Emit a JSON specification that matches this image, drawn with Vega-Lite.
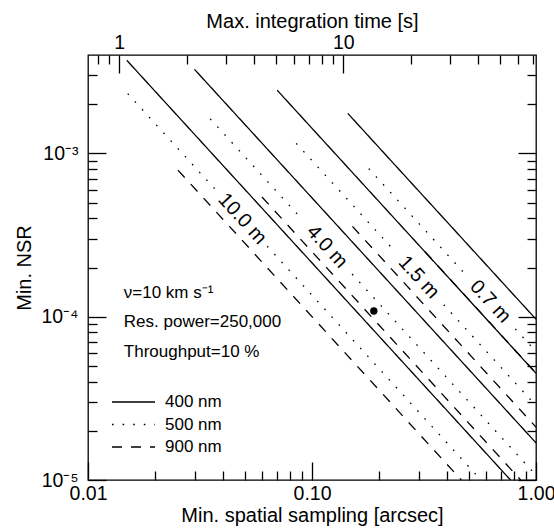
{
  "$schema": "https://vega.github.io/schema/vega-lite/v6.json",
  "width": 448,
  "height": 425,
  "autosize": {"type": "none"},
  "padding": {"left": 88, "top": 55, "right": 18, "bottom": 48},
  "background": "white",
  "config": {
    "font": "Liberation Sans",
    "view": {"stroke": "#000", "strokeWidth": 1.3},
    "axis": {
      "domain": false, "grid": false, "tickColor": "#000", "tickWidth": 1.3,
      "labelColor": "#000", "titleColor": "#000", "labelFontSize": 19.5,
      "titleFontSize": 20, "titleFontWeight": "normal", "labelFlush": false,
      "labelOverlap": false
    }
  },
  "datasets": {
    "lines": [
      {"D": "10.0 m", "band": "400 nm", "seg": "a", "s": 0.0149, "nsr": 0.003711},
      {"D": "10.0 m", "band": "400 nm", "seg": "a", "s": 0.7695, "nsr": 0.00001},
      {"D": "4.0 m", "band": "400 nm", "seg": "a", "s": 0.02988, "nsr": 0.003267},
      {"D": "4.0 m", "band": "400 nm", "seg": "a", "s": 1, "nsr": 0.000016875},
      {"D": "1.5 m", "band": "400 nm", "seg": "a", "s": 0.0699, "nsr": 0.002435},
      {"D": "1.5 m", "band": "400 nm", "seg": "a", "s": 1, "nsr": 0.000045},
      {"D": "0.7 m", "band": "400 nm", "seg": "a", "s": 0.1445, "nsr": 0.0017555},
      {"D": "0.7 m", "band": "400 nm", "seg": "a", "s": 1, "nsr": 0.00009643},
      {"D": "10.0 m", "band": "500 nm", "seg": "a", "s": 0.01504, "nsr": 0.0023204},
      {"D": "10.0 m", "band": "500 nm", "seg": "a", "s": 0.0377, "nsr": 0.0005847},
      {"D": "10.0 m", "band": "500 nm", "seg": "b", "s": 0.0631, "nsr": 0.00027},
      {"D": "10.0 m", "band": "500 nm", "seg": "b", "s": 0.5676, "nsr": 0.00001},
      {"D": "4.0 m", "band": "500 nm", "seg": "a", "s": 0.03511, "nsr": 0.0016264},
      {"D": "4.0 m", "band": "500 nm", "seg": "a", "s": 0.0903, "nsr": 0.0003943},
      {"D": "4.0 m", "band": "500 nm", "seg": "b", "s": 0.151, "nsr": 0.00018235},
      {"D": "4.0 m", "band": "500 nm", "seg": "b", "s": 1, "nsr": 0.0000107},
      {"D": "1.5 m", "band": "500 nm", "seg": "a", "s": 0.085, "nsr": 0.0011512},
      {"D": "1.5 m", "band": "500 nm", "seg": "a", "s": 0.2316, "nsr": 0.00025597},
      {"D": "1.5 m", "band": "500 nm", "seg": "b", "s": 0.3874, "nsr": 0.00011832},
      {"D": "1.5 m", "band": "500 nm", "seg": "b", "s": 1, "nsr": 0.00002853},
      {"D": "0.7 m", "band": "500 nm", "seg": "a", "s": 0.1792, "nsr": 0.000806},
      {"D": "0.7 m", "band": "500 nm", "seg": "a", "s": 0.4834, "nsr": 0.00018192},
      {"D": "0.7 m", "band": "500 nm", "seg": "b", "s": 0.8087, "nsr": 0.00008407},
      {"D": "0.7 m", "band": "500 nm", "seg": "b", "s": 1, "nsr": 0.00006114},
      {"D": "10.0 m", "band": "900 nm", "seg": "a", "s": 0.0252, "nsr": 0.0007899},
      {"D": "10.0 m", "band": "900 nm", "seg": "a", "s": 0.4641, "nsr": 0.00001},
      {"D": "4.0 m", "band": "900 nm", "seg": "a", "s": 0.0598, "nsr": 0.0005402},
      {"D": "4.0 m", "band": "900 nm", "seg": "a", "s": 0.8546, "nsr": 0.00001},
      {"D": "1.5 m", "band": "900 nm", "seg": "a", "s": 0.1515, "nsr": 0.0003573},
      {"D": "1.5 m", "band": "900 nm", "seg": "a", "s": 1, "nsr": 0.00002107},
      {"D": "0.7 m", "band": "900 nm", "seg": "a", "s": 0.318, "nsr": 0.00025173},
      {"D": "0.7 m", "band": "900 nm", "seg": "a", "s": 1, "nsr": 0.00004514}
    ],
    "labels": [
      {"D": "10.0 m", "s": 0.0488, "nsr": 0.000397},
      {"D": "4.0 m", "s": 0.1168, "nsr": 0.000268},
      {"D": "1.5 m", "s": 0.2996, "nsr": 0.000174},
      {"D": "0.7 m", "s": 0.6254, "nsr": 0.0001236}
    ],
    "notes": [
      {"txt": "ν=10 km s⁻¹", "s": 0.01445, "nsr": 0.0001397},
      {"txt": "Res. power=250,000", "s": 0.01445, "nsr": 0.0000932},
      {"txt": "Throughput=10 %", "s": 0.01445, "nsr": 0.000061}
    ],
    "dot": [{"s": 0.1888, "nsr": 0.0001084}],
    "yrange": [{"nsr": 0.00001}, {"nsr": 0.004}],
    "trange": [{"t": 0.725}, {"t": 72.5}]
  },
  "layer": [
    {
      "layer": [
        {
          "data": {"name": "lines"},
          "mark": {"type": "line", "color": "#000", "strokeWidth": 1.3, "clip": true, "strokeCap": "butt"},
          "encoding": {
            "x": {
              "field": "s", "type": "quantitative",
              "scale": {"type": "log", "domain": [0.01, 1], "nice": false, "zero": false},
              "axis": {
                "orient": "bottom",
                "values": [0.01, 0.02, 0.03, 0.04, 0.05, 0.06, 0.07, 0.08, 0.09, 0.1, 0.2, 0.3, 0.4, 0.5, 0.6, 0.7, 0.8, 0.9, 1],
                "labelExpr": "abs(log(datum.value)/LN10 - round(log(datum.value)/LN10)) < 0.001 ? format(datum.value, '.2f') : ''",
                "tickSize": {"condition": {"test": "abs(log(datum.value)/LN10 - round(log(datum.value)/LN10)) < 0.001", "value": -18}, "value": -9},
                "labelPadding": 22,
                "title": "Min. spatial sampling [arcsec]",
                "titlePadding": -6
              }
            },
            "y": {
              "field": "nsr", "type": "quantitative",
              "scale": {"type": "log", "domain": [0.00001, 0.004], "nice": false, "zero": false},
              "axis": {
                "orient": "left",
                "values": [0.00001, 0.00002, 0.00003, 0.00004, 0.00005, 0.00006, 0.00007, 0.00008, 0.00009, 0.0001, 0.0002, 0.0003, 0.0004, 0.0005, 0.0006, 0.0007, 0.0008, 0.0009, 0.001, 0.002, 0.003],
                "labelExpr": "abs(log(datum.value)/LN10 - round(log(datum.value)/LN10)) < 0.001 ? '10' + (round(log(datum.value)/LN10) == -3 ? '⁻³' : round(log(datum.value)/LN10) == -4 ? '⁻⁴' : '⁻⁵') : ''",
                "tickSize": {"condition": {"test": "abs(log(datum.value)/LN10 - round(log(datum.value)/LN10)) < 0.001", "value": -18}, "value": -9},
                "labelPadding": 28,
                "title": "Min. NSR",
                "titlePadding": 6
              }
            },
            "detail": [{"field": "D"}, {"field": "seg"}],
            "strokeDash": {
              "field": "band", "type": "nominal",
              "scale": {"domain": ["400 nm", "500 nm", "900 nm"], "range": [[1, 0], [1.6, 9], [10, 9]]},
              "legend": {
                "orient": "bottom-left", "title": null, "symbolType": "stroke",
                "symbolSize": 1849, "symbolStrokeWidth": 1.3, "symbolStrokeColor": "#000",
                "labelFontSize": 17, "labelColor": "#000", "labelOffset": 9,
                "clipHeight": 20, "rowPadding": 2.5, "offset": 19, "padding": 4
              }
            }
          }
        },
        {
          "data": {"name": "dot"},
          "mark": {"type": "point", "filled": true, "color": "#000", "size": 55, "opacity": 1},
          "encoding": {
            "x": {"field": "s", "type": "quantitative"},
            "y": {"field": "nsr", "type": "quantitative", "axis": null}
          }
        },
        {
          "data": {"name": "labels"},
          "mark": {"type": "text", "angle": 47.6, "fontSize": 20, "align": "center", "baseline": "middle", "color": "#000"},
          "encoding": {
            "x": {"field": "s", "type": "quantitative"},
            "y": {"field": "nsr", "type": "quantitative", "axis": null},
            "text": {"field": "D"}
          }
        },
        {
          "data": {"name": "notes"},
          "mark": {"type": "text", "fontSize": 17, "align": "left", "baseline": "middle", "color": "#000"},
          "encoding": {
            "x": {"field": "s", "type": "quantitative"},
            "y": {"field": "nsr", "type": "quantitative", "axis": null},
            "text": {"field": "txt"}
          }
        },
        {
          "data": {"name": "yrange"},
          "mark": {"type": "point", "opacity": 0},
          "encoding": {
            "y": {
              "field": "nsr", "type": "quantitative",
              "axis": {
                "orient": "right",
                "values": [0.00001, 0.00002, 0.00003, 0.00004, 0.00005, 0.00006, 0.00007, 0.00008, 0.00009, 0.0001, 0.0002, 0.0003, 0.0004, 0.0005, 0.0006, 0.0007, 0.0008, 0.0009, 0.001, 0.002, 0.003],
                "labels": false,
                "tickSize": {"condition": {"test": "abs(log(datum.value)/LN10 - round(log(datum.value)/LN10)) < 0.001", "value": -18}, "value": -9},
                "title": null
              }
            }
          }
        }
      ],
      "resolve": {"axis": {"y": "independent"}}
    },
    {
      "data": {"name": "trange"},
      "mark": {"type": "point", "opacity": 0},
      "encoding": {
        "x": {
          "field": "t", "type": "quantitative",
          "scale": {"type": "log", "domain": [0.725, 72.5], "nice": false, "zero": false},
          "axis": {
            "orient": "top",
            "values": [0.8, 0.9, 1, 2, 3, 4, 5, 6, 7, 8, 9, 10, 20, 30, 40, 50, 60, 70],
            "labelExpr": "abs(log(datum.value)/LN10 - round(log(datum.value)/LN10)) < 0.001 ? format(datum.value, 'd') : ''",
            "tickSize": {"condition": {"test": "abs(log(datum.value)/LN10 - round(log(datum.value)/LN10)) < 0.001", "value": -18}, "value": -9},
            "labelPadding": 21,
            "title": "Max. integration time [s]",
            "titlePadding": -8
          }
        }
      }
    }
  ],
  "resolve": {"scale": {"x": "independent"}}
}
